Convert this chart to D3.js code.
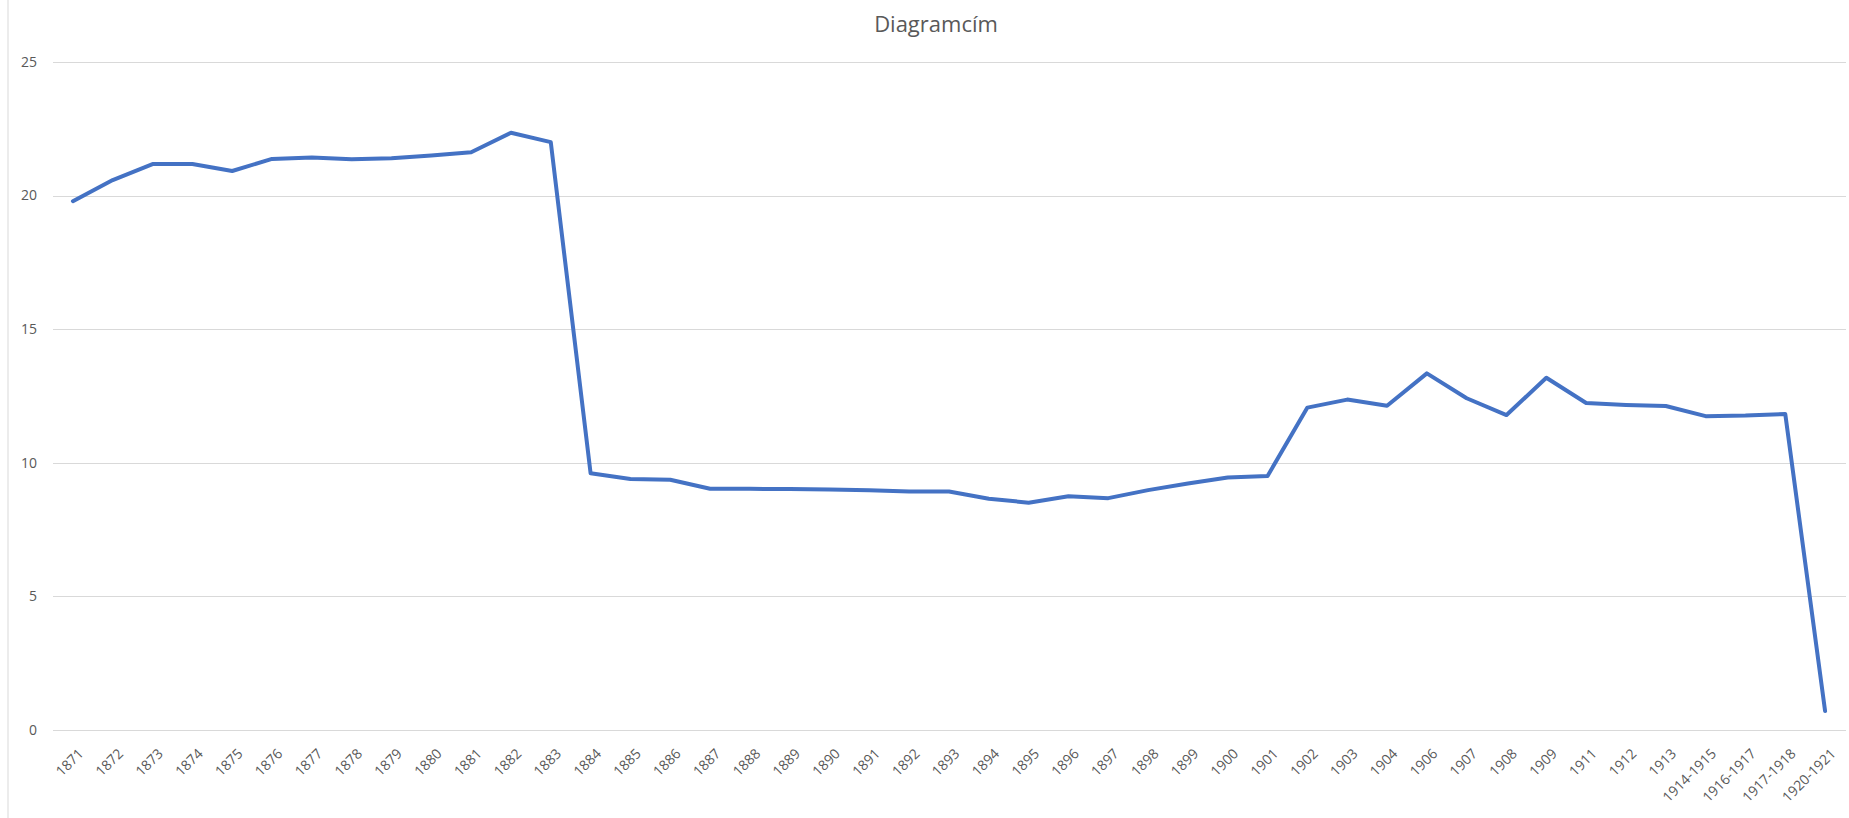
<!DOCTYPE html>
<html lang="hu">
<head>
  <meta charset="UTF-8">
  <title>Diagramcím</title>
  <script src="https://d3js.org/d3.v7.min.js"></script>
  <style>
    body { margin: 0; background: #fff; }
    text { font-family: "Open Sans", sans-serif; fill: #595959; }
  </style>
</head>
<body>
  <svg width="1849" height="818"></svg>

  <script>
    // kategóriák (évek)
    const years = [
      "1871", "1872", "1873", "1874", "1875", "1876", "1877", "1878", "1879", "1880",
      "1881", "1882", "1883", "1884", "1885", "1886", "1887", "1888", "1889", "1890",
      "1891", "1892", "1893", "1894", "1895", "1896", "1897", "1898", "1899", "1900",
      "1901", "1902", "1903", "1904", "1906", "1907", "1908", "1909", "1911", "1912",
      "1913", "1914-1915", "1916-1917", "1917-1918", "1920-1921"
    ];

    // értékek
    const values = [
      19.79, 20.58, 21.18, 21.18, 20.92, 21.37, 21.42, 21.36, 21.40, 21.50,
      21.62, 22.35, 22.00, 9.60, 9.39, 9.36, 9.02, 9.02, 9.01, 8.99,
      8.97, 8.92, 8.92, 8.65, 8.50, 8.74, 8.67, 8.97, 9.22, 9.44,
      9.50, 12.06, 12.36, 12.13, 13.34, 12.41, 11.78, 13.18, 12.23, 12.16,
      12.12, 11.74, 11.76, 11.82, 0.70
    ];

    const yTicks = [0, 5, 10, 15, 20, 25];
    const title = "Diagramcím";

    const svg = d3.select("svg");
    const width = 1849;
    const height = 818;

    const x = d3.scaleBand()
                .domain(years)
                .range([53, 1845])
                .padding(0);

    const y = d3.scaleLinear()
                .domain([0, 25])
                .range([729.7, 62]);

    // bal oldali keret
    svg.append("line")
       .attr("x1", 8).attr("x2", 8)
       .attr("y1", 0).attr("y2", height)
       .attr("stroke", "#d9d9d9")
       .attr("stroke-width", 1);

    // rácsvonalak
    svg.append("g")
       .selectAll("line")
       .data(yTicks)
       .enter().append("line")
       .attr("x1", 53)
       .attr("x2", 1846)
       .attr("y1", d => Math.round(y(d)) + 0.5)
       .attr("y2", d => Math.round(y(d)) + 0.5)
       .attr("stroke", "#d9d9d9")
       .attr("stroke-width", 1);

    // y tengely feliratai
    svg.append("g")
       .selectAll("text")
       .data(yTicks)
       .enter().append("text")
       .attr("x", 37)
       .attr("y", d => y(d))
       .attr("dy", "0.35em")
       .attr("text-anchor", "end")
       .style("font-size", "14px")
       .text(d => d);

    // x tengely feliratai (45 fokban elforgatva)
    svg.append("g")
       .selectAll("text")
       .data(years)
       .enter().append("text")
       .attr("transform", d => "translate(" + (x(d) + x.bandwidth() / 2 + 8) + ",751) rotate(-45)")
       .attr("dy", "0.35em")
       .attr("text-anchor", "end")
       .style("font-size", "14px")
       .text(d => d);

    // vonal
    const line = d3.line()
                   .x((d, i) => x(years[i]) + x.bandwidth() / 2)
                   .y(d => y(d));

    svg.append("path")
       .datum(values)
       .attr("d", line)
       .attr("fill", "none")
       .attr("stroke", "#4472c4")
       .attr("stroke-width", 4)
       .attr("stroke-linejoin", "round")
       .attr("stroke-linecap", "round");

    // cím
    svg.append("text")
       .attr("x", 936)
       .attr("y", 32)
       .attr("text-anchor", "middle")
       .style("font-size", "22px")
       .text(title);
  </script>
</body>
</html>
